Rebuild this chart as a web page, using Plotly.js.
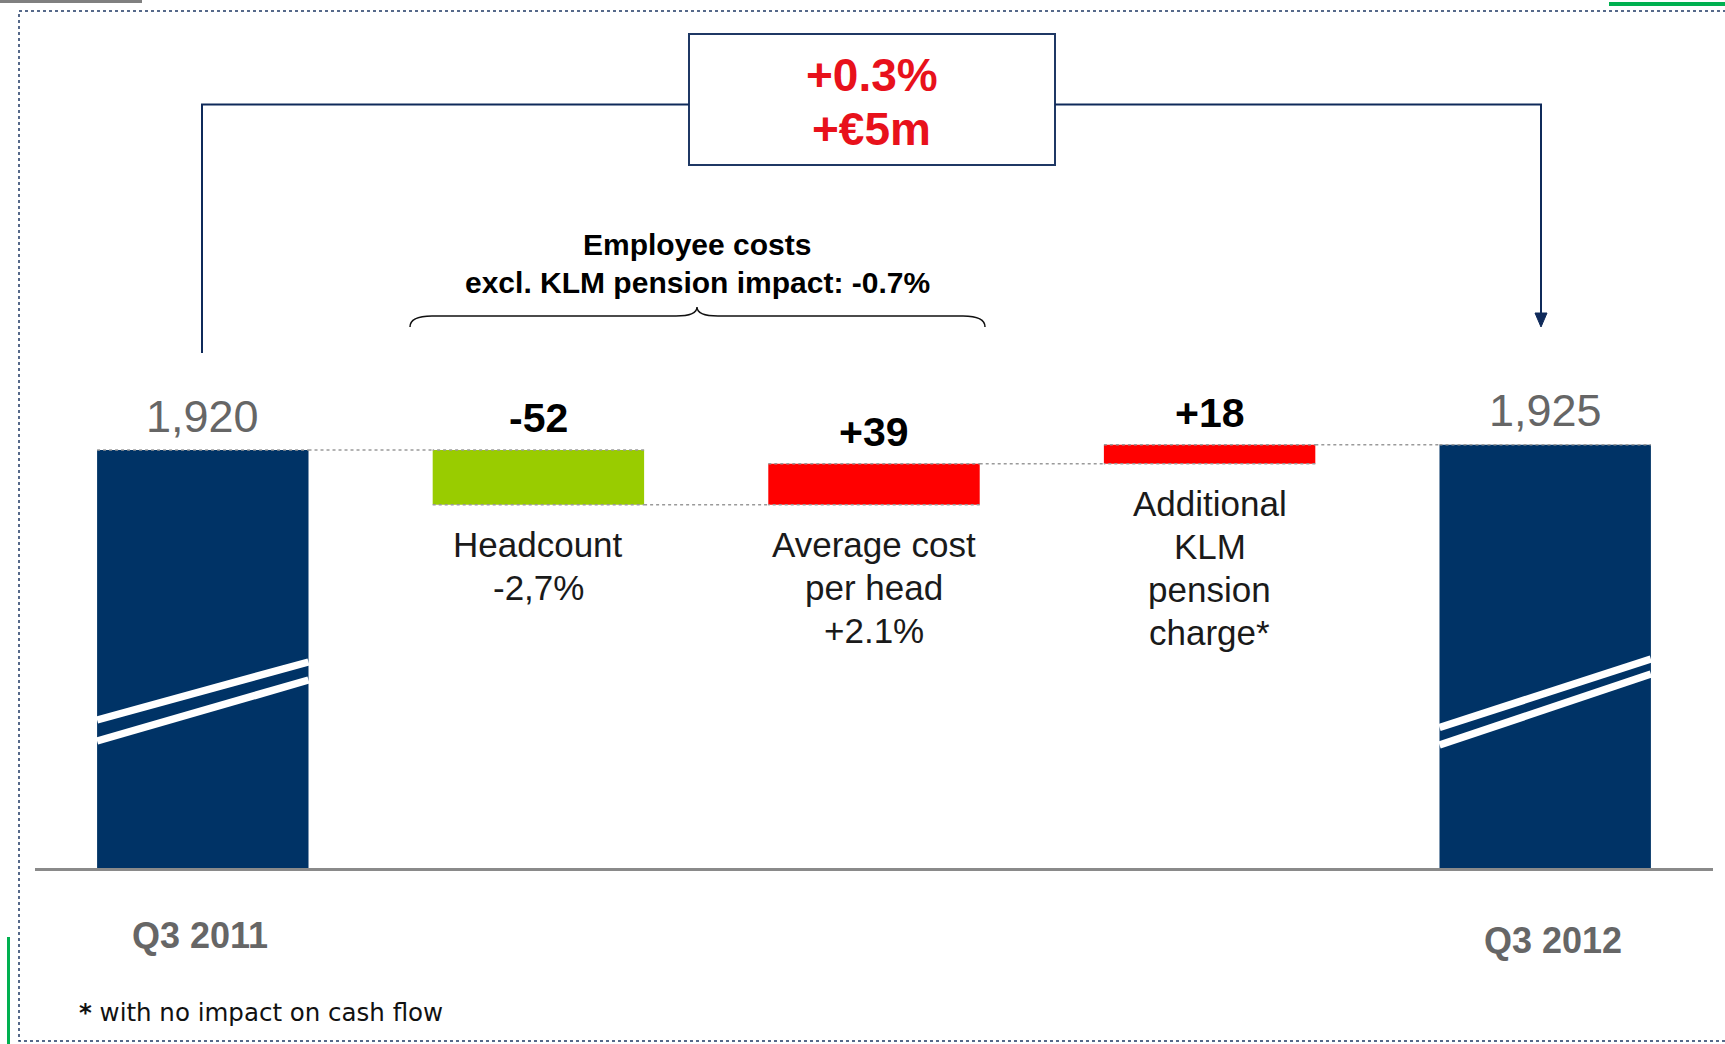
<!DOCTYPE html>
<html><head><meta charset="utf-8">
<script src="https://cdn.plot.ly/plotly-3.0.1.min.js"></script>
<style>html,body{margin:0;padding:0;background:#fff;overflow:hidden}#chart{width:1725px;height:1044px}</style>
</head><body><div id="chart"></div>
<script>
// ---- data ----
const categories = ["Q3 2011", "Headcount", "Average cost per head", "Additional KLM pension charge", "Q3 2012"];
const measures   = ["absolute", "relative", "relative", "relative", "total"];
const values     = [1920, -52, 39, 18, 0];
const valueLabels = ["1,920", "-52", "+39", "+18", "1,925"];
const periodLabels = ["Q3 2011", "", "", "", "Q3 2012"];
const stepLabels = [[], ["Headcount", "-2,7%"], ["Average cost", "per head", "+2.1%"], ["Additional", "KLM", "pension", "charge*"], []];
const changePct = "+0.3%";
const changeAbs = "+€5m";
const braceTitle = ["Employee costs", "excl. KLM pension impact: -0.7%"];
const footnote = "with no impact on cash flow";

// ---- layout helpers ----
const W = 1725, H = 1044;
const px = x => x / W;
const py = y => 1 - y / H;
const FONT = "Liberation Sans, Arial, Helvetica, sans-serif";
const NAVY = "#003366", LINE = "#0f2a5a";

// running tops/bottoms from data
let run = 0; const tops = [], bots = [];
measures.forEach((m, i) => {
  if (m === "absolute") { run = values[i]; tops.push(run); bots.push(0); }
  else if (m === "relative") { const p = run; run += values[i]; tops.push(Math.max(p, run)); bots.push(Math.min(p, run)); }
  else { tops.push(run); bots.push(0); }
});

const pxPerUnit = 1.05, baseVal = 1522, plotH = 868;
const gap = 0.37, halfW = (1 - gap) / 2;

const trace = {
  type: "waterfall",
  x: categories,
  y: values,
  measure: measures,
  textinfo: "none",
  hoverinfo: "skip",
  connector: { mode: "spanning", line: { color: "#9a9a9a", width: 1.5, dash: "dot" } },
  increasing: { marker: { color: "#ff0000", line: { width: 0 } } },
  decreasing: { marker: { color: "#99cc00", line: { width: 0 } } },
  totals: { marker: { color: NAVY, line: { width: 0 } } }
};

const annotations = [];
categories.forEach((c, i) => {
  const isTotal = measures[i] !== "relative";
  annotations.push({
    x: c, y: tops[i], xref: "x", yref: "y", xanchor: "center", yanchor: "middle", yshift: isTotal ? 34 : 32,
    text: isTotal ? valueLabels[i] : "<b>" + valueLabels[i] + "</b>", showarrow: false,
    font: isTotal ? { family: FONT, size: 45, color: "#666666" } : { family: FONT, size: 41, color: "#000000" }
  });
  stepLabels[i].forEach((line, k) => {
    annotations.push({
      x: c, y: bots[i], xref: "x", yref: "y", xanchor: "center", yanchor: "middle", yshift: -40 - k * 43,
      text: line, showarrow: false,
      font: { family: FONT, size: 35, color: "#1a1a1a" }
    });
  });
  if (periodLabels[i]) {
    annotations.push({
      x: c, y: py(i === 0 ? 935 : 940), xref: "x", yref: "paper", xanchor: "center", yanchor: "middle",
      xshift: i === 0 ? -3 : 8,
      text: "<b>" + periodLabels[i] + "</b>", showarrow: false,
      font: { family: FONT, size: 36, color: "#666666" }
    });
  }
});
const paperText = (x, y, text, font, xa) => ({ x: px(x), y: py(y), xref: "paper", yref: "paper",
  xanchor: xa || "center", yanchor: "middle", text: text, showarrow: false, font: font });
annotations.push(
  paperText(872, 75, "<b>" + changePct + "</b>", { family: FONT, size: 46, color: "#e8111b" }),
  paperText(872, 129, "<b>" + changeAbs + "</b>", { family: FONT, size: 46, color: "#e8111b" }),
  paperText(697, 245, "<b>" + braceTitle[0] + "</b>", { family: FONT, size: 30, color: "#000" }),
  paperText(697, 283, "<b>" + braceTitle[1] + "</b>", { family: FONT, size: 30, color: "#000" }),
  paperText(77, 1012, "<b>*</b> " + footnote, { family: "DejaVu Sans, sans-serif", size: 24.5, color: "#111" }, "left")
);

const P = (pts) => pts.map((p, k) => (k === 0 ? "M" : "L") + px(p[0]) + "," + py(p[1])).join(" ");
const shapes = [
  // frame
  { type: "rect", xref: "paper", yref: "paper", x0: px(19), x1: px(1740), y0: py(11), y1: py(1041),
    line: { color: "#1f3864", width: 1.5, dash: "dot" } },
  // slide decorations
  { type: "rect", xref: "paper", yref: "paper", x0: 0, x1: px(142), y0: py(0), y1: py(3), fillcolor: "#808080", line: { width: 0 } },
  { type: "rect", xref: "paper", yref: "paper", x0: px(1609), x1: px(1725), y0: py(2), y1: py(6), fillcolor: "#00b050", line: { width: 0 } },
  { type: "rect", xref: "paper", yref: "paper", x0: px(7), x1: px(10), y0: py(937), y1: py(1044), fillcolor: "#00b050", line: { width: 0 } },
  // change box
  { type: "rect", xref: "paper", yref: "paper", x0: px(689), x1: px(1055), y0: py(34), y1: py(165),
    line: { color: "#1f3864", width: 2 } },
  { type: "path", xref: "paper", yref: "paper", path: P([[202, 353], [202, 104.5], [689, 104.5]]), line: { color: LINE, width: 2 } },
  { type: "path", xref: "paper", yref: "paper", path: P([[1055, 104.5], [1541, 104.5], [1541, 316]]), line: { color: LINE, width: 2 } },
  { type: "path", xref: "paper", yref: "paper", path: P([[1535, 313], [1547, 313], [1541, 327]]) + " Z", fillcolor: LINE, line: { color: LINE, width: 1 } },
  // curly brace
  { type: "path", xref: "paper", yref: "paper",
    path: "M" + px(410) + "," + py(327) + " Q" + px(410) + "," + py(316) + " " + px(432) + "," + py(316) +
          " L" + px(676) + "," + py(316) + " Q" + px(697) + "," + py(316) + " " + px(697) + "," + py(307) +
          " Q" + px(697) + "," + py(316) + " " + px(718) + "," + py(316) +
          " L" + px(963) + "," + py(316) + " Q" + px(985) + "," + py(316) + " " + px(985) + "," + py(327),
    line: { color: "#111", width: 1.5 } }
];
// axis-break stripes on total bars
[[0, [[720, 662], [741, 680]]], [4, [[727.5, 659], [745, 674]]]].forEach(([i, pairs]) => {
  pairs.forEach(([yl, yr]) => shapes.push({
    type: "line", xref: "x", yref: "paper", x0: i - halfW, x1: i + halfW, y0: py(yl), y1: py(yr),
    line: { color: "#ffffff", width: 7.5 }
  }));
});

const layout = {
  width: W, height: H,
  margin: { l: 0, r: 0, t: 0, b: 0 },
  paper_bgcolor: "#fff", plot_bgcolor: "#fff",
  showlegend: false,
  waterfallgap: gap,
  xaxis: { domain: [px(35), px(1713)], showticklabels: false, ticks: "", showgrid: false, zeroline: false,
           showline: true, linecolor: "#8a8a8a", linewidth: 2.5, fixedrange: true },
  yaxis: { domain: [py(plotH), 1], range: [baseVal, baseVal + plotH / pxPerUnit], visible: false, fixedrange: true },
  annotations: annotations,
  shapes: shapes,
  hovermode: false
};

Plotly.newPlot("chart", [trace], layout, { staticPlot: true, displayModeBar: false });
</script></body></html>
